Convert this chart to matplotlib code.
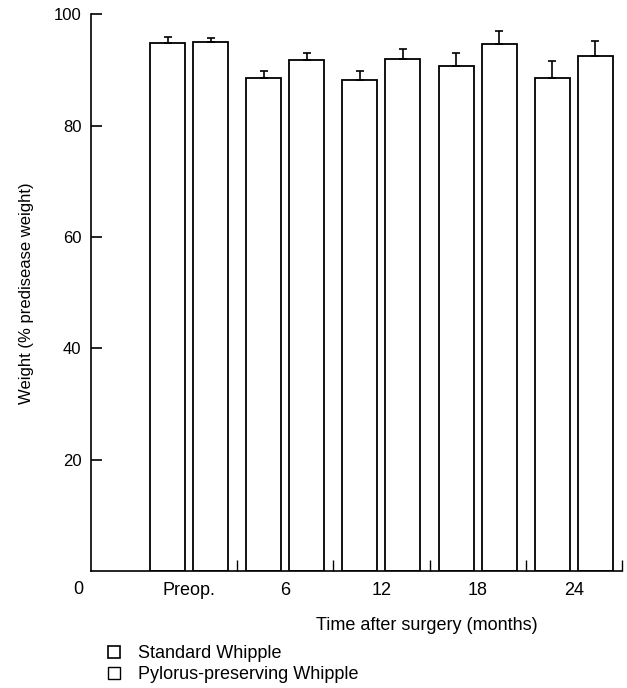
import matplotlib.pyplot as plt
from matplotlib.patches import Patch
import numpy as np

plt.rcParams['font.family'] = ['Liberation Sans', 'DejaVu Sans']

groups = ["Preop.", "6", "12", "18", "24"]
standard = [94.8, 88.5, 88.3, 90.7, 88.5]
standard_err = [1.2, 1.3, 1.6, 2.3, 3.1]
pylorus = [95.0, 91.9, 92.0, 94.7, 92.6]
pylorus_err = [0.8, 1.2, 1.8, 2.3, 2.7]

fig = plt.figure(figsize=(6.27, 6.88), dpi=100)
ax = fig.add_axes([0.1451, 0.170, 0.8469, 0.809])

x = np.arange(len(groups))
w = 0.364
off = 0.2235

ax.bar(x - off, standard, w, color="white", edgecolor="black", linewidth=1.3,
       yerr=[np.zeros(len(x)), standard_err], capsize=3.2,
       error_kw=dict(elinewidth=1.2, capthick=1.2, ecolor="black"))
ax.bar(x + off, pylorus, w, color="white", edgecolor="black", linewidth=1.3,
       yerr=[np.zeros(len(x)), pylorus_err], capsize=3.2,
       error_kw=dict(elinewidth=1.2, capthick=1.2, ecolor="black"))

ax.set_xlim(-1.02, 4.5)
ax.set_ylim(0, 100)
ax.spines['top'].set_visible(False)
ax.spines['right'].set_visible(False)
ax.spines['left'].set_linewidth(1.2)
ax.spines['bottom'].set_linewidth(1.2)

ax.set_yticks([20, 40, 60, 80, 100])
ax.tick_params(axis='y', direction='in', length=8, width=1.2, labelsize=12, pad=7)

ax.set_xticks(x)
ax.set_xticklabels(groups)
ax.tick_params(axis='x', which='major', length=0, labelsize=13, pad=8)
ax.set_xticks([0.5, 1.5, 2.5, 3.5, 4.5], minor=True)
ax.tick_params(axis='x', which='minor', direction='in', length=8, width=1.0)

ax.text(-1.15, -3.3, "0", ha='center', va='center', fontsize=13,
        transform=ax.transData, clip_on=False)

ax.set_ylabel("Weight (% predisease weight)", fontsize=12, labelpad=14)
ax.set_xlabel("Time after surgery (months)", fontsize=13)
ax.xaxis.set_label_coords(0.632, -0.082)

handles = [Patch(facecolor="white", edgecolor="black", linewidth=1.2, label="Standard Whipple"),
           Patch(facecolor="white", edgecolor="black", linewidth=1.0, label="Pylorus-preserving Whipple")]
fig.legend(handles=handles, loc='upper left', bbox_to_anchor=(0.172, 0.062), frameon=False,
           fontsize=13, handlelength=0.65, handleheight=0.65, handletextpad=1.0, labelspacing=0.22,
           borderaxespad=0, borderpad=0)

fig.savefig("out.png", dpi=100)
